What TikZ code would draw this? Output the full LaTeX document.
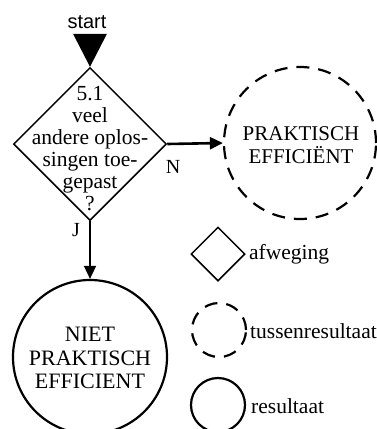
\documentclass[tikz,border=0pt]{standalone}
\usepackage{fontspec}
\setmainfont{Liberation Serif}
\newfontfamily\startfont{Liberation Sans}
\usetikzlibrary{shapes.geometric,arrows.meta,calc}

\tikzset{
  decision/.style={draw, shape=diamond, line width=1.5pt, inner sep=0pt,
    minimum width=#1, minimum height=#1},
  interim/.style={draw, circle, line width=2.2pt, inner sep=0pt, minimum size=#1,
    dash pattern=on 13pt off 9pt},
  final/.style={draw, circle, line width=2.2pt, inner sep=0pt, minimum size=#1},
  txt/.style={inner sep=0pt, align=center, font=\fontsize{21}{23}\selectfont},
  legtxt/.style={inner sep=0pt, anchor=west, font=\fontsize{21.5}{24}\selectfont},
  flow/.style={-{Triangle[length=13pt,width=12pt]}},
}

\begin{document}
\begin{tikzpicture}[x=1pt,y=-1pt]
  \useasboundingbox (0,0) rectangle (377,429);

  % start marker
  \node[inner sep=0pt, anchor=base, font=\startfont\fontsize{20}{21}\selectfont]
    (start) at (87,28) {start};

  % decision 5.1
  \node[decision=153pt] (q) at (90,144) {};
  \node[txt, font=\fontsize{21.5}{22}\selectfont] (qtext) at (90,149)
    {5.1\\veel\\andere oplos-\\singen toe-\\gepast\\?};
  \fill ($(q.north)+(-17,-33)$) -- ($(q.north)+(17,-33)$) -- (q.north) -- cycle;

  % outcomes
  \node[interim=152pt] (pe) at (300,143) {};
  \node[txt] (petext) at (301,145) {PRAKTISCH\\EFFICIËNT};

  \node[final=154pt] (npe) at (90,357) {};
  \node[txt, font=\fontsize{22}{23.5}\selectfont] (npetext) at (90,358)
    {NIET\\PRAKTISCH\\EFFICIENT};

  % connectors
  \draw[flow, line width=2.6pt] (q.east) -- (pe.west);
  \draw[flow, line width=1.5pt] (q.south) -- (npe.north);
  \node[txt, font=\fontsize{20}{20}\selectfont] (lblN) at (173,167) {N};
  \node[txt, font=\fontsize{20}{20}\selectfont] (lblJ) at (76,230) {J};

  % legend
  \node[decision=54pt] (lgq) at (218,254) {};
  \node[legtxt] (lgqtext) at (249,254) {afweging};
  \node[interim=54pt] (lgi) at (219,330) {};
  \node[legtxt] (lgitext) at (250,331) {tussenresultaat};
  \node[final=54pt] (lgf) at (218,405) {};
  \node[legtxt] (lgftext) at (251,406) {resultaat};
\end{tikzpicture}
\end{document}
